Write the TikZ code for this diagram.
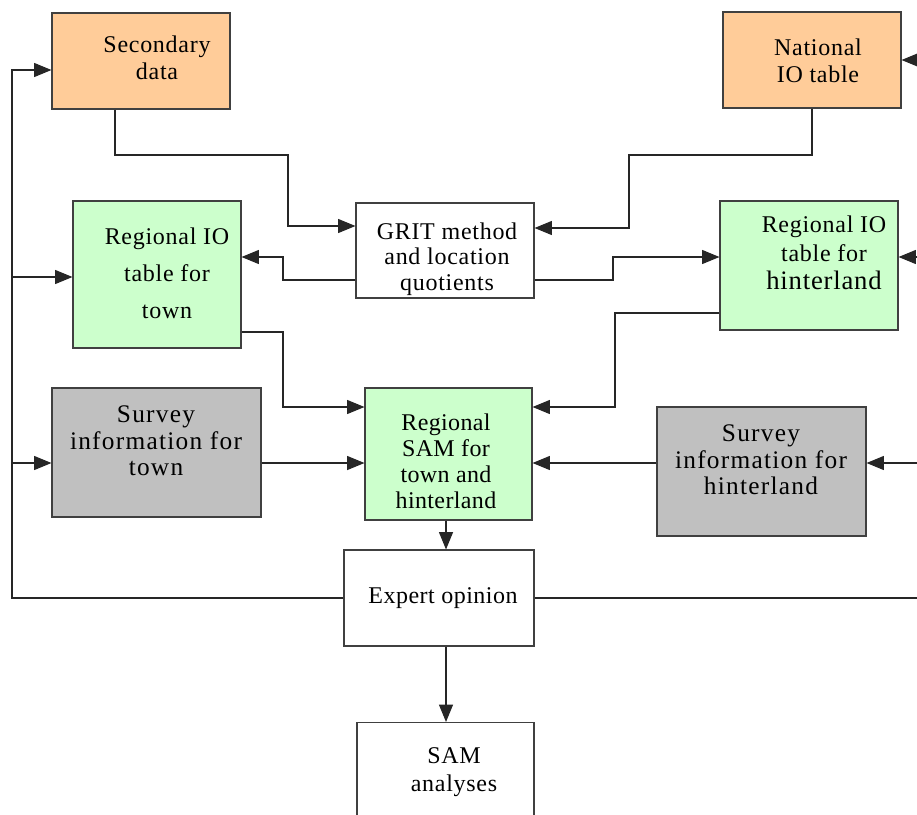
\documentclass[tikz,border=0pt]{standalone}
\usepackage{fontspec}
\setmainfont{Liberation Serif}
\usetikzlibrary{arrows.meta}

\definecolor{peach}{HTML}{FFCC99}
\definecolor{mint}{HTML}{CCFFCC}
\definecolor{silver}{HTML}{C0C0C0}

\tikzset{
  box/.style={draw=black!75, line width=0.8pt, inner sep=0pt},
  databox/.style={box, fill=peach},
  tablebox/.style={box, fill=mint},
  surveybox/.style={box, fill=silver},
  txt/.style={align=center, inner sep=0pt,
    font=\fontsize{18}{#1}\selectfont\addfontfeature{LetterSpace=3}},
  txt/.default=20,
  link/.style={draw=black!85, line width=0.8pt},
  arr/.style={link, -{Triangle[length=13pt,width=10.5pt]}}
}

\begin{document}
\begin{tikzpicture}[x=0.75pt, y=-0.75pt]
  \useasboundingbox (0,0) rectangle (917,814);

  % boxes
  \node[databox, minimum width=133.5pt, minimum height=72pt] (sec) at (141,61) {};
  \node[databox, minimum width=133.5pt, minimum height=72pt] (nat) at (812,60) {};
  \node[box, minimum width=133.5pt, minimum height=71.25pt] (grit) at (445,250.5) {};
  \node[tablebox, minimum width=126pt, minimum height=110.25pt] (riot) at (157,274.5) {};
  \node[tablebox, minimum width=133.5pt, minimum height=96.75pt] (rioh) at (809,265.5) {};
  \node[surveybox, minimum width=156.75pt, minimum height=96.75pt] (survt) at (156.5,452.5) {};
  \node[tablebox, minimum width=125.25pt, minimum height=99pt] (sam) at (448.5,454) {};
  \node[surveybox, minimum width=156.75pt, minimum height=96.75pt] (survh) at (761.5,471.5) {};
  \node[box, minimum width=142.5pt, minimum height=72pt] (expert) at (439,598) {};
  \node[box, minimum width=132.75pt, minimum height=80.25pt] (samana) at (445.5,776) {};

  % texts
  \node[txt] (sec-t) at (157,58) {Secondary\\data};
  \node[txt] (nat-t) at (818,61) {National\\IO table};
  \node[txt=19] (grit-t) at (447,259) {GRIT method\\and location\\quotients};
  \node[txt=27.75] (riot-t) at (167,273) {Regional IO\\table for\\town};
  \node[txt=21.5] (rioh-t) at (824,253) {Regional IO\\table for\\{\fontsize{20}{21.5}\selectfont hinterland}};
  \node[txt, font=\fontsize{19}{20}\selectfont\addfontfeature{LetterSpace=5}] (survt-t) at (156,441) {Survey\\information for\\town};
  \node[txt, font=\fontsize{18}{19.5}\selectfont\addfontfeature{LetterSpace=1.5}] (sam-t) at (446,461) {Regional\\SAM for\\town and\\hinterland};
  \node[txt, font=\fontsize{19}{20}\selectfont\addfontfeature{LetterSpace=5}] (survh-t) at (761,460) {Survey\\information for\\hinterland};
  \node[txt, font=\fontsize{18}{20}\selectfont\addfontfeature{LetterSpace=2}] (expert-t) at (443,598) {Expert opinion};
  \node[txt=21] (samana-t) at (454,772) {SAM\\analyses};

  % feedback loops
  \coordinate (loopl) at (12,0);
  \coordinate (loopr) at (935,0);
  \draw[arr] (expert.west) -| (loopl |- 0,70) -- (sec.west |- 0,70);
  \draw[arr] (loopl |- 0,277) -- (riot.west |- 0,277);
  \draw[arr] (loopl |- 0,463) -- (survt.west |- 0,463);
  \draw[arr] (expert.east) -| (loopr |- 0,60) -- (nat.east |- 0,60);
  \draw[arr] (loopr |- 0,257) -- (rioh.east |- 0,257);
  \draw[arr] (loopr |- 0,463) -- (survh.east |- 0,463);

  % into GRIT
  \draw[arr] (sec.south -| 115,0) |- (288,155) |- (grit.west |- 0,226);
  \draw[arr] (nat.south -| 812,0) |- (629,155) |- (grit.east |- 0,228);

  % out of GRIT
  \draw[arr] (grit.west |- 0,280) -| (283,257) -- (riot.east |- 0,257);
  \draw[arr] (grit.east |- 0,280) -| (613,257) -- (rioh.west |- 0,257);

  % into SAM
  \draw[arr] (riot.east |- 0,332) -| (283,407) -- (sam.west |- 0,407);
  \draw[arr] (rioh.west |- 0,313) -| (615,407) -- (sam.east |- 0,407);
  \draw[arr] (survt.east |- 0,463) -- (sam.west |- 0,463);
  \draw[arr] (survh.west |- 0,463) -- (sam.east |- 0,463);

  \draw[arr] (sam.south -| 446,0) -- (expert.north -| 446,0);
  \draw[arr] (expert.south -| 446,0) -- (samana.north -| 446,0);
\end{tikzpicture}
\end{document}
